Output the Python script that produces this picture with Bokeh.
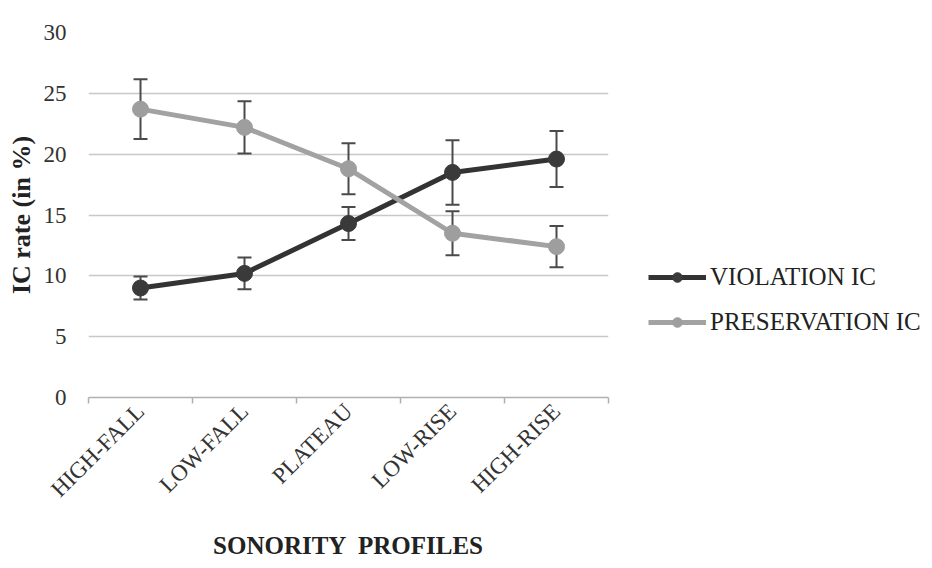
import math
from bokeh.plotting import figure
from bokeh.models import (ColumnDataSource, Range1d, FixedTicker, Whisker, TeeHead,
                          Legend, LegendItem)
from bokeh.embed import file_html
from bokeh.resources import INLINE

categories = ["HIGH-FALL", "LOW-FALL", "PLATEAU", "LOW-RISE", "HIGH-RISE"]
violation = [9.0, 10.2, 14.3, 18.5, 19.6]
violation_err = [0.95, 1.3, 1.35, 2.65, 2.3]
preservation = [23.7, 22.2, 18.8, 13.5, 12.4]
preservation_err = [2.45, 2.15, 2.1, 1.8, 1.7]
y_ticks = [0, 5, 10, 15, 20, 25, 30]

SERIF = "Liberation Serif"
xs = list(range(len(categories)))

p = figure(frame_width=520, frame_height=365, output_backend="svg", toolbar_location=None,
           x_range=Range1d(-0.5, len(categories) - 0.5), y_range=Range1d(0, 30),
           min_border_left=88, min_border_right=0, min_border_top=32,
           min_border_bottom=0)
p.outline_line_color = None
p.background_fill_color = "white"
p.border_fill_color = "white"

# grid
p.xgrid.grid_line_color = None
p.ygrid.grid_line_color = "#c8c8c8"
p.ygrid.grid_line_width = 1.5
p.ygrid.ticker = FixedTicker(ticks=y_ticks)

# y axis
p.yaxis.ticker = FixedTicker(ticks=y_ticks)
p.yaxis.axis_line_color = None
p.yaxis.major_tick_line_color = None
p.yaxis.minor_tick_line_color = None
p.yaxis.major_label_text_font = SERIF
p.yaxis.major_label_text_font_size = "23px"
p.yaxis.major_label_text_color = "#333333"
p.yaxis.major_label_standoff = 16
p.yaxis.axis_label = "IC rate (in %)"
p.yaxis.axis_label_text_font = SERIF
p.yaxis.axis_label_text_font_style = "bold"
p.yaxis.axis_label_text_font_size = "26px"
p.yaxis.axis_label_text_color = "#222222"
p.yaxis.axis_label_standoff = 5

# x axis
p.xaxis.ticker = FixedTicker(ticks=xs, minor_ticks=[i - 0.5 for i in range(len(categories) + 1)])
p.xaxis.major_label_overrides = {i: c for i, c in enumerate(categories)}
p.xaxis.axis_line_color = "#b0b0b0"
p.xaxis.axis_line_width = 1.5
p.xaxis.major_tick_line_color = None
p.xaxis.minor_tick_line_color = "#b0b0b0"
p.xaxis.minor_tick_line_width = 1.5
p.xaxis.minor_tick_in = 0
p.xaxis.minor_tick_out = 6
p.xaxis.major_label_orientation = math.pi / 4
p.xaxis.major_label_text_font = SERIF
p.xaxis.major_label_text_font_size = "23px"
p.xaxis.major_label_text_color = "#333333"
p.xaxis.major_label_standoff = 4
p.xaxis.axis_label = "SONORITY \u00a0PROFILES"
p.xaxis.axis_label_text_font = SERIF
p.xaxis.axis_label_text_font_style = "bold"
p.xaxis.axis_label_text_font_size = "25px"
p.xaxis.axis_label_text_color = "#222222"
p.xaxis.axis_label_standoff = 18

src_v = ColumnDataSource(dict(x=xs, y=violation,
                              lo=[v - e for v, e in zip(violation, violation_err)],
                              hi=[v + e for v, e in zip(violation, violation_err)]))
src_p = ColumnDataSource(dict(x=xs, y=preservation,
                              lo=[v - e for v, e in zip(preservation, preservation_err)],
                              hi=[v + e for v, e in zip(preservation, preservation_err)]))

ERR = "#4a4a4a"
for src in (src_v, src_p):
    w = Whisker(source=src, base="x", lower="lo", upper="hi",
                line_color=ERR, line_width=2,
                upper_head=TeeHead(size=14, line_color=ERR, line_width=2),
                lower_head=TeeHead(size=14, line_color=ERR, line_width=2))
    p.add_layout(w)

DARK = "#333333"
LIGHT = "#a2a2a2"
lv = p.line("x", "y", source=src_v, line_color=DARK, line_width=5)
cv = p.scatter("x", "y", source=src_v, size=16, fill_color="#3a3a3a", line_color="#3a3a3a")
lp = p.line("x", "y", source=src_p, line_color=LIGHT, line_width=5)
cp = p.scatter("x", "y", source=src_p, size=16, fill_color="#9e9e9e", line_color="#9e9e9e")

legend = Legend(items=[LegendItem(label="VIOLATION IC", renderers=[lv, cv]),
                       LegendItem(label="PRESERVATION IC", renderers=[lp, cp])],
                location=(40, 61), orientation="vertical")
legend.border_line_color = None
legend.background_fill_alpha = 0
legend.label_text_font = SERIF
legend.label_text_font_size = "25px"
legend.label_text_color = "#222222"
legend.glyph_width = 58
legend.glyph_height = 24
legend.label_height = 24
legend.label_standoff = 4
legend.spacing = 17
legend.padding = 6
legend.margin = 0
p.add_layout(legend, "right")

open("out.html", "w").write(file_html(p, INLINE))
